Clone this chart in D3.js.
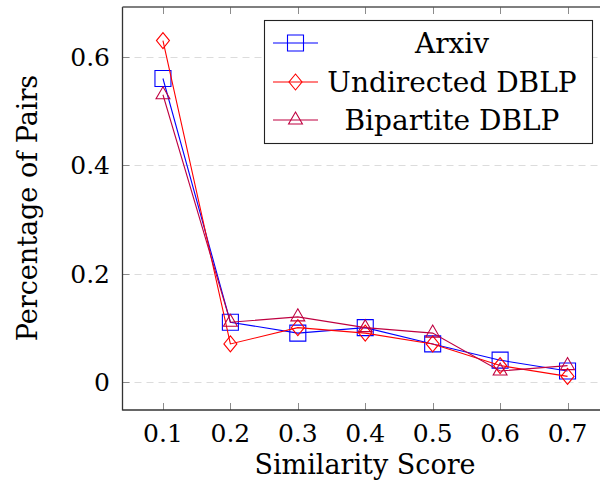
<!DOCTYPE html>
<html>
<head>
<meta charset="utf-8">
<script src="https://cdn.jsdelivr.net/npm/d3@7"></script>
<style>
  html, body { margin: 0; padding: 0; background: #fff; }
  svg { display: block; }
  text { font-family: "DejaVu Serif", serif; fill: #000; }
</style>
</head>
<body>
<svg id="chart" width="600" height="498"></svg>
<script>
const xValues = [0.1, 0.2, 0.3, 0.4, 0.5, 0.6, 0.7];
const arxiv = [0.56, 0.11, 0.09, 0.10, 0.07, 0.04, 0.02];
const undirectedDBLP = [0.63, 0.07, 0.10, 0.09, 0.07, 0.03, 0.01];
const bipartiteDBLP = [0.53, 0.11, 0.12, 0.10, 0.09, 0.02, 0.03];
const xTicks = [0.1, 0.2, 0.3, 0.4, 0.5, 0.6, 0.7];
const yTicks = [0, 0.2, 0.4, 0.6];
const seriesNames = ["Arxiv", "Undirected DBLP", "Bipartite DBLP"];

const series = [
  { name: seriesNames[0], values: arxiv, color: "#0000ff", mark: "square" },
  { name: seriesNames[1], values: undirectedDBLP, color: "#ff0000", mark: "diamond" },
  { name: seriesNames[2], values: bipartiteDBLP, color: "#bf0040", mark: "triangle" }
];

const svg = d3.select("#chart");
const pLeft = 122.5, pTop = 7, pBottom = 410, pRight = 608;

const x = d3.scaleLinear().domain([0.04, 0.76]).range([pLeft, pRight]);
const y = d3.scaleLinear().domain([-0.052, 0.692]).range([pBottom, pTop]);

// grid
svg.append("g").selectAll("line").data(yTicks).join("line")
  .attr("x1", pLeft).attr("x2", pRight)
  .attr("y1", d => Math.round(y(d)) + 0.5).attr("y2", d => Math.round(y(d)) + 0.5)
  .attr("stroke", "#dcdcdc").attr("stroke-width", 1)
  .attr("stroke-dasharray", "7,5");

// ticks (inward), gray
const tickG = svg.append("g").attr("stroke", "#8c8c8c").attr("stroke-width", 1);
xTicks.forEach(t => {
  const px = Math.round(x(t)) + 0.5;
  tickG.append("line").attr("x1", px).attr("x2", px).attr("y1", pBottom).attr("y2", pBottom - 7);
  tickG.append("line").attr("x1", px).attr("x2", px).attr("y1", pTop).attr("y2", pTop + 7);
});
yTicks.forEach(t => {
  const py = Math.round(y(t)) + 0.5;
  tickG.append("line").attr("x1", pLeft).attr("x2", pLeft + 7).attr("y1", py).attr("y2", py);
});

// axes frame
svg.append("line").attr("x1", pLeft).attr("x2", pLeft).attr("y1", pTop).attr("y2", pBottom + 0.5)
  .attr("stroke", "#333").attr("stroke-width", 1.3);
svg.append("line").attr("x1", pLeft).attr("x2", pRight).attr("y1", pBottom).attr("y2", pBottom)
  .attr("stroke", "#333").attr("stroke-width", 1.3);
svg.append("line").attr("x1", pLeft).attr("x2", pRight).attr("y1", pTop).attr("y2", pTop)
  .attr("stroke", "#555").attr("stroke-width", 1.3);

// tick labels
svg.append("g").selectAll("text").data(xTicks).join("text")
  .attr("x", d => x(d)).attr("y", 442)
  .attr("text-anchor", "middle").attr("font-size", 25)
  .text(d => d3.format(".1f")(d));
svg.append("g").selectAll("text").data(yTicks).join("text")
  .attr("x", 110).attr("y", d => y(d)).attr("dy", "0.36em")
  .attr("text-anchor", "end").attr("font-size", 25)
  .text(d => d === 0 ? "0" : d3.format(".1f")(d));

// axis labels
svg.append("text").attr("x", 365).attr("y", 474).attr("text-anchor", "middle")
  .attr("font-size", 27).text("Similarity Score");
svg.append("text").attr("transform", "translate(37,208) rotate(-90)")
  .attr("text-anchor", "middle").attr("font-size", 27).text("Percentage of Pairs");

// marker path generator
function markPath(type) {
  if (type === "square") return "M-8,-8H8V8H-8Z";
  if (type === "diamond") return "M0,-8L6.5,0L0,8L-6.5,0Z";
  const r = 8;
  return `M0,${-r}L${r * 0.866},${r / 2}L${-r * 0.866},${r / 2}Z`;
}

const line = d3.line().x((d, i) => x(xValues[i])).y(d => y(d));

series.forEach(s => {
  const g = svg.append("g");
  g.append("path").attr("d", line(s.values))
    .attr("fill", "none").attr("stroke", s.color).attr("stroke-width", 1.1);
  g.selectAll("path.m").data(s.values).join("path").attr("class", "m")
    .attr("transform", (d, i) => `translate(${x(xValues[i])},${y(d)})`)
    .attr("d", markPath(s.mark))
    .attr("fill", "none").attr("stroke", s.color).attr("stroke-width", 1.1);
});

// legend
const lg = svg.append("g");
lg.append("rect").attr("x", 264.5).attr("y", 20.5).attr("width", 328).attr("height", 123)
  .attr("fill", "#fff").attr("stroke", "#222").attr("stroke-width", 1.1);
const legY = [43, 82, 120];
series.forEach((s, i) => {
  lg.append("line").attr("x1", 273).attr("x2", 318).attr("y1", legY[i]).attr("y2", legY[i])
    .attr("stroke", s.color).attr("stroke-width", 1.1);
  lg.append("path").attr("transform", `translate(295.5,${legY[i]})`).attr("d", markPath(s.mark))
    .attr("fill", "none").attr("stroke", s.color).attr("stroke-width", 1.1);
  lg.append("text").attr("x", 452).attr("y", legY[i]).attr("dy", "0.36em")
    .attr("text-anchor", "middle").attr("font-size", 28).text(s.name);
});
</script>
</body>
</html>
